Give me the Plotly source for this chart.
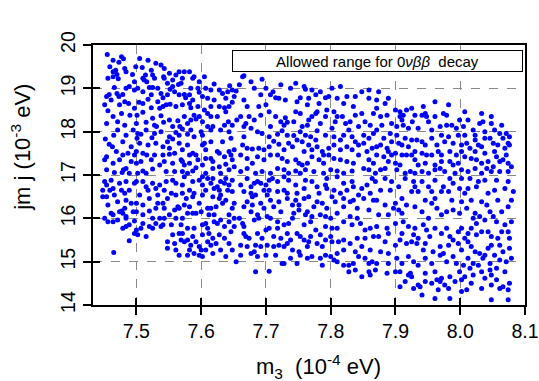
import plotly.graph_objects as go

# (m3 [1e-4 eV], |m_ee| [1e-3 eV]), region by region
upper_left = [
(7.455,19.78),(7.477,19.73),(7.480,19.68),(7.473,19.60),(7.482,19.46),(7.468,19.42),(7.464,19.38),(7.470,19.32),
(7.456,19.23),(7.472,19.22),(7.494,19.32),(7.499,19.50),(7.509,19.48),(7.518,19.65),(7.523,19.42),(7.514,19.31),
(7.512,19.19),(7.516,19.15),(7.528,19.23),(7.520,19.02),(7.525,19.02),(7.538,19.54),(7.543,19.46),(7.542,19.27),
(7.551,19.35),(7.561,19.31),(7.566,19.38),(7.574,19.38),(7.582,19.38),(7.565,19.09),(7.569,19.12),(7.556,19.04),
(7.552,18.98),(7.559,18.92),(7.548,18.85),(7.541,18.78),(7.538,18.88),(7.533,19.00),(7.502,19.00),(7.497,18.96),
(7.484,19.00),(7.466,19.02),(7.458,18.86),(7.454,18.81),(7.470,18.88),(7.473,18.81),(7.479,18.86),(7.451,18.62),
(7.474,18.62),(7.488,18.65),(7.504,18.68),(7.518,18.75),(7.523,18.55),(7.541,18.58),(7.546,18.62),(7.552,18.63),
(7.536,18.54),(7.456,18.48),(7.477,18.42),(7.490,18.38),(7.501,18.38),(7.510,18.45),(7.515,18.22),(7.528,18.15),
(7.531,18.12),(7.538,18.37),(7.542,18.22),(7.551,18.27),(7.564,18.25),(7.567,18.12),(7.571,18.06),(7.561,17.98),
(7.579,18.19),(7.584,18.27),(7.589,18.38),(7.592,18.29),(7.574,18.35),(7.582,18.65),(7.584,18.55),(7.576,18.78),
(7.574,18.86),(7.587,18.73),(7.595,18.58),(7.605,18.50),(7.597,18.35),(7.610,18.42),(7.615,18.35),(7.610,18.77),
(7.615,18.96),(7.607,19.00),(7.595,19.00),(7.597,18.91),(7.584,19.00),(7.628,18.96),(7.633,18.88),(7.641,18.92),
(7.644,19.06),(7.648,18.96),(7.654,18.94),(7.628,18.58),(7.636,18.55),(7.643,18.58),(7.648,18.68),(7.638,18.46),
(7.642,18.23),(7.648,18.15),(7.655,18.27),(7.636,18.15),(7.618,18.12),(7.615,18.04),(7.600,18.00),(7.602,17.92),
(7.589,17.88),(7.579,17.94),(7.566,17.92),(7.551,17.88),(7.556,17.83),(7.548,17.77),(7.541,17.65),(7.528,17.96),
(7.524,17.86),(7.507,17.94),(7.502,17.96),(7.501,17.85),(7.484,17.92),(7.465,17.92),(7.452,17.83),(7.458,17.71),
(7.463,17.65),(7.492,17.65),(7.487,17.50),(7.500,17.54),(7.497,17.46),(7.479,17.46),(7.454,17.42),(7.451,17.35),
(7.484,17.15),(7.480,17.12),(7.478,17.06),(7.466,17.06),(7.489,17.04),(7.510,17.50),(7.516,17.46),(7.528,17.46),
(7.541,17.46),(7.551,17.48),(7.559,17.50),(7.543,17.31),(7.536,17.23),(7.525,17.14),(7.510,17.09),(7.515,17.04),
(7.500,17.27),(7.507,17.31),(7.569,17.35),(7.571,17.31),(7.574,17.23),(7.582,17.46),(7.587,17.50),(7.592,17.46),
(7.602,17.69),(7.605,17.73),(7.595,17.35),(7.607,17.38),(7.615,17.38),(7.618,17.31),(7.625,17.54),(7.628,17.50),
(7.636,17.42),(7.643,17.54),(7.646,17.46),(7.651,17.58),(7.638,17.25),(7.628,17.19),(7.618,17.15),(7.607,17.04),
(7.592,17.17),(7.587,17.09),(7.571,17.08),(7.559,17.08),(7.643,17.12),(7.651,17.19),
]
upper_left_more = [
(7.510,19.23),(7.525,19.31),(7.543,19.23),(7.556,19.19),(7.497,19.15),(7.484,19.38),(7.464,19.27),(7.459,19.50),
(7.489,19.04),(7.510,18.92),(7.523,18.85),(7.566,18.85),(7.582,18.85),(7.602,18.81),(7.620,18.73),(7.638,18.77),
(7.651,18.81),(7.461,18.73),(7.482,18.69),(7.497,18.54),(7.510,18.65),(7.533,18.69),(7.561,18.58),(7.571,18.62),
(7.615,18.58),(7.464,18.35),(7.471,18.23),(7.482,18.15),(7.454,18.19),(7.500,18.19),(7.525,18.31),(7.556,18.12),
(7.602,18.23),(7.610,18.12),(7.625,18.35),(7.630,18.04),(7.643,18.00),(7.471,18.04),(7.495,18.04),(7.515,18.04),
(7.538,18.00),(7.584,18.04),(7.479,17.77),(7.505,17.73),(7.518,17.69),(7.530,17.73),(7.566,17.73),(7.579,17.69),
(7.615,17.77),(7.633,17.77),(7.646,17.85),(7.469,17.54),(7.551,17.62),(7.571,17.58),(7.607,17.58),(7.464,17.27),
(7.474,17.35),(7.492,17.31),(7.523,17.35),(7.556,17.27),(7.582,17.27),(7.602,17.23),(7.648,17.35),(7.454,17.12),
(7.502,17.04),(7.546,17.08),(7.579,17.04),(7.630,17.04),(7.587,19.23),(7.571,19.23),(7.548,19.12),(7.597,19.15),
(7.589,19.27),(7.464,19.65),(7.505,19.69),(7.530,19.58),(7.605,19.27),(7.620,19.10),
]
upper_middle = [
(7.664,19.27),(7.666,19.29),(7.694,19.21),(7.711,18.92),(7.707,18.85),(7.715,18.78),(7.720,18.77),(7.738,19.00),
(7.746,19.12),(7.759,19.04),(7.761,18.98),(7.771,18.96),(7.753,18.78),(7.766,18.77),(7.777,18.85),(7.792,18.78),
(7.797,18.81),(7.810,18.77),(7.838,18.81),(7.859,18.77),(7.871,18.73),(7.666,18.73),(7.692,18.85),(7.671,18.58),
(7.689,18.58),(7.692,18.38),(7.661,18.35),(7.674,18.35),(7.682,18.27),(7.669,18.19),(7.666,18.12),(7.715,18.35),
(7.730,18.32),(7.733,18.22),(7.728,18.15),(7.746,18.46),(7.753,18.42),(7.764,18.62),(7.771,18.35),(7.766,18.27),
(7.756,18.12),(7.764,18.15),(7.784,18.19),(7.794,18.50),(7.805,18.46),(7.810,18.35),(7.807,18.23),(7.818,18.35),
(7.823,18.19),(7.835,18.58),(7.838,18.38),(7.853,18.23),(7.861,18.15),(7.871,18.54),(7.866,18.42),(7.687,18.00),
(7.694,17.96),(7.725,18.02),(7.733,17.92),(7.743,17.91),(7.753,18.00),(7.761,17.92),(7.769,17.88),(7.779,18.02),
(7.792,17.92),(7.805,17.88),(7.820,17.92),(7.833,17.88),(7.851,17.92),(7.859,17.85),(7.866,17.96),(7.871,18.04),
(7.666,17.88),(7.664,17.69),(7.679,17.60),(7.689,17.62),(7.697,17.58),(7.712,17.78),(7.720,17.71),(7.735,17.73),
(7.741,17.65),(7.756,17.77),(7.766,17.69),(7.779,17.65),(7.787,17.54),(7.789,17.46),(7.805,17.69),(7.815,17.58),
(7.825,17.65),(7.838,17.77),(7.843,17.69),(7.864,17.62),(7.877,17.69),(7.661,17.46),(7.671,17.38),(7.707,17.46),
(7.718,17.46),(7.725,17.38),(7.746,17.35),(7.751,17.27),(7.756,17.23),(7.771,17.42),(7.782,17.35),(7.797,17.46),
(7.805,17.38),(7.815,17.35),(7.825,17.31),(7.843,17.46),(7.859,17.35),(7.871,17.46),(7.679,17.27),(7.694,17.08),
(7.707,17.04),(7.728,17.12),(7.735,17.04),(7.746,17.09),(7.761,17.12),(7.774,17.08),(7.789,17.04),(7.810,17.09),
(7.820,17.04),(7.851,17.15),(7.859,17.12),(7.869,17.04),(7.661,17.08),(7.659,19.08),(7.700,18.62),(7.779,18.46),
]
upper_middle_more = [
(7.677,19.15),(7.682,19.00),(7.700,19.00),(7.723,19.08),(7.730,18.73),(7.748,18.69),(7.782,18.65),(7.820,18.65),
(7.825,18.81),(7.848,18.92),(7.859,18.96),(7.874,18.92),(7.784,18.92),(7.802,19.00),(7.815,19.04),(7.705,18.46),
(7.723,18.23),(7.743,18.23),(7.777,18.42),(7.792,18.35),(7.830,18.23),(7.848,18.42),(7.877,18.35),(7.677,18.08),
(7.707,18.12),(7.802,18.08),(7.828,18.04),(7.843,18.12),(7.705,17.88),(7.718,17.94),(7.748,17.81),(7.777,17.81),
(7.815,17.81),(7.851,17.73),(7.671,17.62),(7.705,17.65),(7.728,17.58),(7.759,17.54),(7.771,17.58),(7.797,17.62),
(7.833,17.58),(7.856,17.54),(7.871,17.65),(7.687,17.42),(7.697,17.35),(7.733,17.31),(7.764,17.27),(7.789,17.27),
(7.835,17.27),(7.866,17.27),(7.671,17.15),(7.684,17.04),(7.718,17.15),(7.753,17.04),(7.800,17.12),(7.833,17.09),
(7.877,17.12),
]
upper_right = [
(7.889,18.77),(7.887,18.38),(7.900,18.50),(7.907,18.46),(7.912,18.38),(7.917,18.50),(7.925,18.54),(7.910,18.27),
(7.912,18.15),(7.926,18.23),(7.943,18.58),(7.946,18.42),(7.941,18.38),(7.948,18.35),(7.951,18.23),(7.974,18.42),
(7.969,18.12),(7.979,18.15),(7.987,18.15),(7.999,18.27),(8.005,18.12),(8.020,18.04),(8.030,18.19),(8.035,18.23),
(8.048,18.35),(8.053,18.04),(8.061,17.96),(8.071,17.96),(8.074,17.73),(8.076,17.69),(7.879,18.15),(7.882,17.85),
(7.887,17.62),(7.889,17.54),(7.902,17.92),(7.905,17.73),(7.910,17.69),(7.915,17.85),(7.900,17.50),(7.910,17.46),
(7.917,17.46),(7.925,17.81),(7.933,17.81),(7.941,17.77),(7.946,17.69),(7.941,17.50),(7.948,17.46),(7.956,17.46),
(7.964,17.69),(7.966,17.54),(7.976,17.77),(7.984,17.54),(7.989,17.73),(7.994,17.46),(8.002,17.69),(8.010,17.73),
(8.015,17.62),(8.028,17.69),(8.033,17.65),(8.046,17.85),(8.051,17.73),(8.053,17.54),(8.056,17.42),(8.061,17.31),
(8.066,17.85),(8.017,17.38),(8.007,17.42),(8.025,17.35),(8.033,17.27),(8.043,17.31),(8.051,17.19),(7.889,17.31),
(7.900,17.27),(7.907,17.23),(7.930,17.35),(7.935,17.23),(7.946,17.27),(7.961,17.23),(7.971,17.31),(7.984,17.31),
(7.989,17.23),(7.997,17.27),(7.923,17.08),(7.930,17.04),(7.941,17.08),(7.951,17.04),(7.961,17.12),(7.976,17.08),
(8.002,17.12),(8.012,17.08),(8.033,17.04),(8.048,17.08),(8.074,17.08),(7.915,17.04),
]
upper_right_more = [
(7.884,18.65),(7.894,18.19),(7.902,18.12),(7.920,18.08),(7.930,18.38),(7.935,18.08),(7.956,18.04),(7.961,18.35),
(7.979,18.38),(7.994,18.08),(8.012,18.27),(8.023,17.92),(8.038,18.00),(8.048,18.19),(8.064,18.15),(8.076,17.88),
(7.892,17.96),(7.894,17.77),(7.920,17.65),(7.930,17.54),(7.956,17.85),(7.971,17.92),(7.982,17.88),(7.997,17.92),
(8.007,17.92),(8.023,17.81),(8.038,17.85),(8.058,17.69),(8.069,17.62),(8.071,17.46),(7.882,17.42),(7.894,17.46),
(7.925,17.46),(7.971,17.46),(8.002,17.54),(8.023,17.54),(8.038,17.50),(8.066,17.35),(8.074,17.27),(7.884,17.15),
(7.902,17.12),(7.969,17.15),(7.992,17.04),(8.023,17.15),(8.041,17.15),(8.061,17.08),(8.079,17.19),(7.961,18.69),
(7.982,18.62),(8.007,18.46),(8.033,18.42),(7.907,18.35),
]
lower_left = [
(7.461,16.88),(7.454,16.77),(7.448,16.65),(7.459,16.65),(7.464,16.69),(7.466,16.54),(7.454,16.50),(7.448,16.50),
(7.456,16.31),(7.471,16.38),(7.489,16.65),(7.482,16.58),(7.484,16.42),(7.492,16.35),(7.497,16.81),(7.500,16.85),
(7.510,16.85),(7.515,16.73),(7.518,16.65),(7.525,16.81),(7.530,16.69),(7.536,16.77),(7.546,16.85),(7.554,16.58),
(7.548,16.46),(7.561,16.54),(7.571,16.58),(7.577,16.46),(7.582,16.65),(7.587,16.50),(7.589,16.58),(7.574,16.31),
(7.564,16.27),(7.566,16.23),(7.559,16.19),(7.541,16.35),(7.533,16.35),(7.530,16.23),(7.520,16.17),(7.510,16.31),
(7.500,16.35),(7.495,16.15),(7.477,16.17),(7.479,16.12),(7.484,16.04),(7.464,16.08),(7.461,16.12),(7.497,15.94),
(7.484,16.00),(7.474,16.15),(7.456,15.92),(7.464,15.92),(7.484,15.81),(7.479,15.77),(7.500,15.73),(7.502,15.62),
(7.497,15.65),(7.507,15.77),(7.515,15.58),(7.520,15.81),(7.530,15.88),(7.538,15.81),(7.541,15.85),(7.551,16.08),
(7.536,16.00),(7.525,16.00),(7.571,16.00),(7.587,16.12),(7.592,16.12),(7.554,15.85),(7.556,15.62),(7.548,15.46),
(7.559,15.42),(7.548,15.31),(7.566,15.65),(7.569,15.50),(7.566,15.15),(7.574,15.46),(7.579,15.50),(7.582,15.27),
(7.584,15.38),(7.592,15.46),(7.597,15.35),(7.600,15.27),(7.597,15.15),(7.602,15.12),(7.489,15.48),(7.465,15.21),
(7.589,15.77),(7.602,15.85),(7.607,15.88),(7.610,15.77),(7.602,15.62),(7.610,15.46),(7.615,15.38),(7.623,15.42),
(7.630,15.27),(7.628,15.62),(7.636,15.81),(7.643,15.42),(7.638,15.12),(7.654,15.00),(7.602,16.77),(7.607,16.65),
(7.615,16.81),(7.620,16.69),(7.625,16.73),(7.628,16.65),(7.630,16.85),(7.636,16.81),(7.643,16.77),(7.648,16.88),
(7.641,16.65),(7.628,16.46),(7.630,16.54),(7.633,16.35),(7.623,16.27),(7.610,16.23),(7.615,16.23),(7.600,16.15),
(7.612,16.08),(7.620,15.92),(7.625,15.88),(7.630,15.96),(7.643,15.92),(7.648,16.23),(7.651,16.35),(7.638,16.42),
(7.556,16.88),(7.561,16.81),(7.574,16.96),(7.587,16.85),(7.597,16.88),(7.602,16.96),(7.610,16.92),(7.618,16.92),
(7.638,16.92),
]
lower_left_more = [
(7.451,16.85),(7.474,16.81),(7.484,16.85),(7.477,16.65),(7.505,16.54),(7.520,16.46),(7.533,16.54),(7.543,16.65),
(7.500,16.15),(7.510,16.08),(7.543,16.23),(7.582,16.27),(7.597,16.35),(7.579,16.12),(7.561,16.00),(7.543,16.00),
(7.451,16.00),(7.471,15.96),(7.489,15.85),(7.510,15.88),(7.525,15.77),(7.569,15.85),(7.579,15.77),(7.571,15.65),
(7.587,15.58),(7.612,15.65),(7.618,15.54),(7.636,15.54),(7.646,15.69),(7.651,15.81),(7.607,15.27),(7.618,15.19),
(7.648,15.27),(7.561,15.27),(7.579,15.15),(7.589,15.19),(7.643,16.08),(7.651,16.00),(7.620,16.08),(7.602,16.54),
(7.618,16.50),(7.648,16.62),(7.571,16.77),(7.482,16.23),
]
lower_middle = [
(7.671,16.92),(7.682,16.81),(7.677,16.73),(7.687,16.85),(7.692,16.81),(7.705,16.88),(7.710,16.92),(7.728,16.96),
(7.735,16.88),(7.761,16.88),(7.779,16.73),(7.792,16.77),(7.794,16.69),(7.810,16.96),(7.820,16.81),(7.833,16.85),
(7.835,16.73),(7.848,16.69),(7.864,16.92),(7.877,16.65),(7.677,16.58),(7.679,16.50),(7.684,16.54),(7.697,16.65),
(7.705,16.65),(7.702,16.54),(7.718,16.62),(7.728,16.65),(7.733,16.58),(7.666,16.27),(7.679,16.31),(7.692,16.35),
(7.697,16.23),(7.712,16.27),(7.720,16.38),(7.733,16.46),(7.746,16.42),(7.751,16.31),(7.759,16.46),(7.766,16.50),
(7.779,16.38),(7.787,16.35),(7.802,16.50),(7.807,16.38),(7.820,16.46),(7.830,16.38),(7.835,16.42),(7.851,16.46),
(7.866,16.42),(7.871,16.42),(7.659,16.00),(7.664,15.88),(7.666,15.81),(7.682,15.96),(7.687,16.08),(7.689,16.00),
(7.702,16.04),(7.707,16.00),(7.718,15.92),(7.728,15.85),(7.735,15.88),(7.741,16.00),(7.743,16.12),(7.751,16.19),
(7.764,16.15),(7.761,16.08),(7.771,16.04),(7.784,16.08),(7.792,16.04),(7.810,16.12),(7.830,16.04),(7.841,16.00),
(7.846,15.88),(7.853,15.73),(7.861,15.77),(7.871,15.81),(7.666,15.65),(7.669,15.58),(7.674,15.54),(7.687,15.65),
(7.700,15.73),(7.705,15.77),(7.712,15.58),(7.723,15.54),(7.733,15.65),(7.738,15.50),(7.748,15.65),(7.753,15.58),
(7.759,15.50),(7.766,15.46),(7.769,15.58),(7.777,15.73),(7.784,15.62),(7.792,15.50),(7.800,15.58),(7.802,15.46),
(7.810,15.77),(7.812,15.46),(7.820,15.50),(7.841,15.54),(7.853,15.54),(7.866,15.58),(7.874,15.58),(7.661,15.38),
(7.671,15.35),(7.684,15.38),(7.692,15.35),(7.702,15.38),(7.712,15.35),(7.720,15.38),(7.733,15.42),(7.741,15.27),
(7.751,15.23),(7.753,15.15),(7.764,15.35),(7.771,15.12),(7.784,15.08),(7.787,14.92),(7.792,15.15),(7.800,15.12),
(7.805,15.04),(7.820,14.92),(7.828,14.92),(7.835,14.96),(7.838,15.23),(7.843,15.12),(7.853,15.08),(7.859,14.96),
(7.864,15.00),(7.871,14.96),(7.869,14.81),(7.861,14.69),(7.859,14.77),(7.848,14.65),(7.661,15.15),(7.677,15.19),
(7.682,15.23),(7.700,15.15),(7.715,15.15),(7.725,14.96),(7.748,14.96),(7.684,14.77),(7.705,14.78),(7.728,14.96),
]
lower_middle_more = [
(7.661,16.77),(7.666,16.62),(7.700,16.77),(7.718,16.85),(7.746,16.77),(7.748,16.58),(7.759,16.69),(7.771,16.85),
(7.782,16.58),(7.794,16.92),(7.805,16.65),(7.815,16.58),(7.825,16.65),(7.843,16.54),(7.856,16.77),(7.869,16.85),
(7.861,16.58),(7.671,16.38),(7.707,16.42),(7.741,16.31),(7.774,16.27),(7.794,16.23),(7.820,16.27),(7.841,16.23),
(7.859,16.19),(7.874,16.08),(7.677,16.15),(7.723,16.15),(7.800,16.00),(7.820,15.92),(7.833,15.85),(7.759,15.85),
(7.769,15.92),(7.792,15.81),(7.802,15.77),(7.718,15.77),(7.694,15.54),(7.728,15.35),(7.779,15.42),(7.787,15.35),
(7.830,15.42),(7.848,15.35),(7.861,15.27),(7.877,15.23),(7.810,15.19),(7.820,15.27),(7.764,15.08),(7.738,15.08),
(7.687,15.12),(7.828,14.77),(7.838,14.81),(7.810,15.00),
]
lower_right = [
(7.884,16.92),(7.892,16.65),(7.915,16.92),(7.928,16.85),(7.941,16.85),(7.930,16.73),(7.935,16.62),(7.925,16.62),
(7.910,16.46),(7.900,16.35),(7.897,16.23),(7.884,16.31),(7.889,16.08),(7.905,16.19),(7.917,16.31),(7.930,16.27),
(7.946,16.42),(7.956,16.35),(7.961,16.46),(7.964,16.23),(7.971,16.62),(7.974,16.73),(7.982,16.62),(7.987,16.42),
(7.989,16.19),(7.971,16.08),(7.979,16.15),(7.999,16.69),(8.007,16.58),(8.012,16.69),(8.025,16.73),(8.017,16.42),
(8.033,16.38),(8.041,16.31),(8.046,16.15),(8.030,16.04),(8.020,16.00),(8.023,16.12),(8.002,16.38),(8.051,16.04),
(8.064,16.15),(8.074,16.27),(8.058,16.42),(8.079,16.42),(8.053,16.65),(8.056,16.88),(8.074,16.85),(8.038,16.88),
(8.015,16.92),(8.002,16.92),(7.984,16.92),(7.961,16.88),(7.900,15.88),(7.912,15.92),(7.920,15.81),(7.928,15.62),
(7.935,15.54),(7.943,15.85),(7.948,15.73),(7.961,15.77),(7.979,15.77),(7.984,15.58),(7.989,15.50),(7.997,15.69),
(8.002,15.77),(8.007,15.54),(8.012,15.46),(8.017,15.77),(8.025,15.88),(8.025,15.62),(8.033,15.69),(8.043,15.31),
(8.030,15.19),(8.048,15.38),(8.061,15.38),(8.076,15.54),(8.074,15.69),(8.076,15.31),(8.058,15.54),(7.884,15.46),
(7.889,15.19),(7.900,15.38),(7.907,15.50),(7.917,15.42),(7.925,15.46),(7.933,15.42),(7.953,15.58),(7.958,15.23),
(7.969,15.15),(7.974,15.19),(7.969,15.35),(7.982,15.38),(7.989,15.12),(8.002,15.27),(8.012,15.08),(8.020,14.96),
(8.028,14.92),(8.035,15.08),(8.038,15.15),(8.061,15.04),(8.071,15.00),(7.889,14.96),(7.902,15.08),(7.910,14.96),
(7.920,15.12),(7.928,15.00),(7.935,14.92),(7.907,14.77),(7.923,14.73),(7.925,14.65),(7.887,14.73),(7.907,14.42),
(7.920,14.69),(7.935,14.46),(7.946,14.73),(7.961,14.77),(7.964,14.58),(7.971,14.62),(7.984,14.65),(7.999,14.77),
(8.002,14.58),(8.005,14.92),(8.015,14.85),(8.033,14.77),(8.046,14.81),(8.048,14.69),(8.056,14.58),(8.066,14.42),
(8.076,14.50),(8.061,14.38),(8.020,14.69),(7.956,14.50),(7.969,14.54),(7.982,14.38),(8.010,14.35),(8.033,14.38),
(7.984,14.15),(8.074,14.12),(7.928,14.38),(7.938,14.42),
]
lower_right_more = [
(7.894,16.85),(7.905,16.73),(7.951,16.73),(7.956,16.62),(7.989,16.81),(8.028,16.85),(8.043,16.58),(8.069,16.69),
(8.082,16.62),(7.910,16.12),(7.941,16.15),(7.951,16.00),(7.999,16.12),(8.010,16.23),(8.038,15.96),(8.056,15.92),
(8.069,15.85),(8.079,15.92),(7.887,15.77),(7.889,15.65),(7.910,15.65),(7.930,15.77),(7.971,15.65),(8.012,15.65),
(8.043,15.69),(8.048,15.58),(8.064,15.69),(7.946,15.42),(7.943,15.27),(7.997,15.42),(8.017,15.35),(8.023,15.23),
(8.053,15.15),(8.066,15.23),(8.079,15.08),(7.946,15.08),(7.956,14.96),(7.979,15.00),(7.994,14.96),(8.046,14.96),
(8.056,14.85),(8.069,14.77),(7.900,14.77),(7.915,14.54),(7.946,14.54),(7.976,14.46),(7.992,14.54),(8.017,14.50),
(8.038,14.62),(8.048,14.46),(8.007,14.65),(7.941,14.23),(7.966,14.35),(8.002,14.31),(8.074,14.35),(8.048,14.12),
(7.961,14.15),
]

x_ticks = [7.5, 7.6, 7.7, 7.8, 7.9, 8.0, 8.1]
x_tick_text = ["7.5", "7.6", "7.7", "7.8", "7.9", "8.0", "8.1"]
y_ticks = [14, 15, 16, 17, 18, 19, 20]
x_range = [7.433, 8.1]
y_range = [14, 20]

points = (upper_left + upper_left_more + upper_middle + upper_middle_more + upper_right + upper_right_more
          + lower_left + lower_left_more + lower_middle + lower_middle_more + lower_right + lower_right_more)
m3 = [p[0] for p in points]
mee = [p[1] for p in points]

FONT = "Liberation Sans, Arial, Helvetica, sans-serif"

fig = go.Figure()
fig.add_trace(go.Scatter(
    x=m3, y=mee, mode="markers",
    marker=dict(color="#0000FF", size=5, line=dict(width=0)),
    showlegend=False, hoverinfo="skip",
))
# invisible trace to bind the overlay axes (inner halves of the crossing ticks)
fig.add_trace(go.Scatter(x=[x_range[0]], y=[y_range[0]], xaxis="x2", yaxis="y2",
                         mode="markers", marker=dict(opacity=0), showlegend=False, hoverinfo="skip"))

axis_common = dict(showline=True, linecolor="black", linewidth=2, mirror=True,
                   ticks="outside", ticklen=8, tickwidth=2, tickcolor="black",
                   showgrid=True, gridcolor="#8a8a8a", gridwidth=1, griddash="dash",
                   zeroline=False, automargin=False,
                   tickfont=dict(family=FONT, size=19.5, color="black"))

fig.update_layout(
    width=539, height=381,
    margin=dict(l=93, r=14, t=45, b=76, autoexpand=False),
    paper_bgcolor="white", plot_bgcolor="white",
    xaxis=dict(range=x_range, tickvals=x_ticks, ticktext=x_tick_text, **axis_common),
    yaxis=dict(range=y_range, tickvals=y_ticks, tickangle=-90, **axis_common),
    xaxis2=dict(range=x_range, overlaying="x", tickvals=x_ticks, ticks="inside", ticklen=7,
                tickwidth=2, tickcolor="black", showticklabels=False, showgrid=False,
                showline=False, zeroline=False, automargin=False),
    yaxis2=dict(range=y_range, overlaying="y", tickvals=y_ticks, ticks="inside", ticklen=7,
                tickwidth=2, tickcolor="black", showticklabels=False, showgrid=False,
                showline=False, zeroline=False, automargin=False),
    annotations=[
        dict(text="Allowed range for 0<i>νββ</i>  decay", xref="paper", yref="paper",
             x=0.995, y=0.981, xanchor="right", yanchor="top", showarrow=False,
             width=287, height=18, align="center", bgcolor="white",
             bordercolor="black", borderwidth=1, borderpad=1,
             font=dict(family=FONT, size=15, color="black")),
        dict(text="m<sub>3</sub>  (10<sup>-4</sup> eV)", xref="paper", yref="paper",
             x=0.521, y=-0.238, xanchor="center", yanchor="middle", showarrow=False,
             font=dict(family=FONT, size=22, color="black")),
        dict(text="jm j (10<sup>-3</sup> eV)", xref="paper", yref="paper",
             x=-0.167, y=0.608, xanchor="center", yanchor="middle", showarrow=False,
             textangle=-90, font=dict(family=FONT, size=22, color="black")),
    ],
)

fig.write_html("out.html")
